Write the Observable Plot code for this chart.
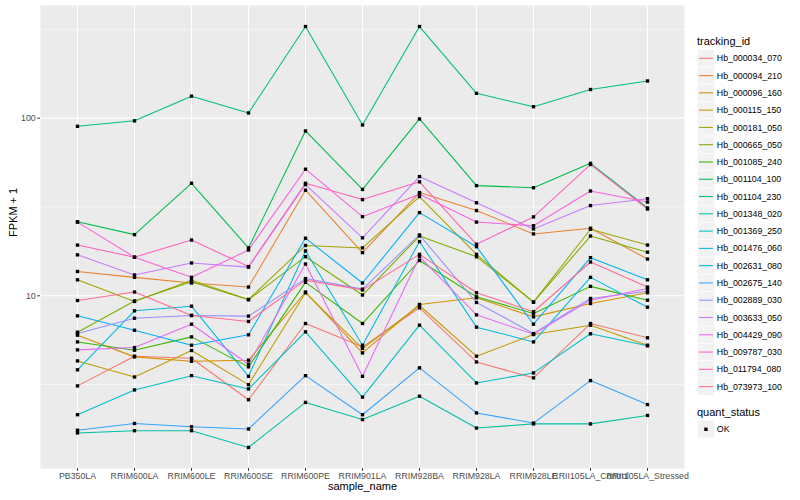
<!DOCTYPE html>
<html><head><meta charset="utf-8">
<script src="https://cdn.jsdelivr.net/npm/d3@7"></script>
<script src="https://cdn.jsdelivr.net/npm/@observablehq/plot@0.6"></script>
<style>
body{margin:0;background:#fff;font-family:"Liberation Sans",Arial,sans-serif;}
#wrap{display:flex;width:800px;height:500px;}
</style></head><body><div id="wrap"></div>
<script>
const samples = ["PB350LA","RRIM600LA","RRIM600LE","RRIM600SE","RRIM600PE","RRIM901LA","RRIM928BA","RRIM928LA","RRIM928LE","RRII105LA_Control","RRII105LA_Stressed"];
const ids = ["Hb_000034_070","Hb_000094_210","Hb_000096_160","Hb_000115_150","Hb_000181_050","Hb_000665_050","Hb_001085_240","Hb_001104_100","Hb_001104_230","Hb_001348_020","Hb_001369_250","Hb_001476_060","Hb_002631_080","Hb_002675_140","Hb_002889_030","Hb_003633_050","Hb_004429_090","Hb_009787_030","Hb_011794_080","Hb_073973_100"];
const colors = ["#F8766D","#EA8331","#D89000","#C09B00","#A3A500","#7CAE00","#39B600","#00BB4E","#00BF7D","#00C1A3","#00BFC4","#00BAE0","#00B0F6","#35A2FF","#9590FF","#C77CFF","#E76BF3","#FA62DB","#FF62BC","#FF6C91"];

const s000034_070 = [3.11, 4.57, 4.45, 2.60, 6.98, 5.16, 8.56, 4.24, 3.45, 6.98, 5.80];
const s000094_210 = [13.7, 12.7, 11.8, 11.2, 39.3, 17.5, 38.1, 30.2, 22.3, 24.0, 16.1];
const s000096_160 = [6.00, 4.53, 4.28, 4.34, 10.5, 4.77, 8.94, 9.74, 7.61, 9.05, 10.4];
const s000115_150 = [4.30, 3.49, 4.92, 3.16, 10.4, 5.05, 8.82, 4.57, 6.05, 6.83, 5.27];
const s000181_050 = [12.3, 9.29, 12.25, 9.54, 19.2, 18.6, 36.2, 17.1, 9.21, 23.7, 19.3];
const s000665_050 = [6.24, 9.35, 12.0, 9.50, 16.6, 10.1, 21.7, 16.6, 9.21, 21.7, 17.6];
const s001085_240 = [5.50, 4.94, 5.87, 3.98, 11.9, 6.98, 15.8, 9.87, 7.95, 11.3, 9.45];
const s001104_100 = [26.1, 22.1, 43.0, 18.6, 84.7, 39.7, 99.0, 41.7, 40.6, 55.7, 31.2];
const s001104_230 = [90.0, 96.6, 133, 107, 328, 91.6, 328, 138, 116, 145, 162];
const s001348_020 = [1.69, 1.74, 1.74, 1.40, 2.51, 2.01, 2.72, 1.80, 1.90, 1.90, 2.12];
const s001369_250 = [2.14, 2.95, 3.55, 2.99, 6.27, 2.69, 6.83, 3.23, 3.68, 6.11, 5.23];
const s001476_060 = [3.83, 8.23, 8.74, 3.52, 17.9, 5.27, 20.2, 6.66, 5.50, 12.7, 8.63];
const s002631_080 = [7.71, 6.40, 5.27, 6.03, 21.1, 11.8, 29.4, 18.9, 6.92, 16.4, 12.3];
const s002675_140 = [1.75, 1.91, 1.83, 1.78, 3.55, 2.14, 3.93, 2.19, 1.92, 3.33, 2.44];
const s002889_030 = [6.13, 7.48, 7.75, 7.68, 12.5, 10.9, 22.0, 9.17, 6.13, 9.66, 10.6];
const s003633_050 = [17.0, 13.1, 15.3, 14.5, 42.3, 21.2, 46.9, 33.4, 23.8, 32.2, 35.2];
const s004429_090 = [4.96, 5.11, 6.92, 4.12, 15.1, 3.52, 16.6, 7.81, 6.08, 9.45, 11.0];
const s009787_030 = [26.0, 16.5, 12.7, 18.1, 51.6, 27.9, 37.3, 26.0, 24.8, 38.9, 33.7];
const s011794_080 = [19.3, 16.5, 20.6, 14.6, 43.0, 34.8, 43.8, 19.5, 27.8, 54.8, 30.8];
const s073973_100 = [9.41, 10.5, 7.75, 7.17, 12.25, 10.8, 17.1, 10.4, 8.13, 15.5, 11.2];

const majorTicks = [10, 100];
const minorTicks = [Math.sqrt(10), Math.sqrt(10) * 10, Math.sqrt(10) * 100];

const series = [s000034_070,s000094_210,s000096_160,s000115_150,s000181_050,s000665_050,s001085_240,s001104_100,s001104_230,s001348_020,s001369_250,s001476_060,s002631_080,s002675_140,s002889_030,s003633_050,s004429_090,s009787_030,s011794_080,s073973_100];
const table = ids.flatMap((id, i) => series[i].map((v, j) => ({id, sample: samples[j], fpkm: v, status: "OK"})));

// ggplot-like 5% expansion in log space
const ext = d3.extent(table, d => Math.log10(d.fpkm));
const pad = (ext[1] - ext[0]) * 0.05;
const yDomain = [10 ** (ext[0] - pad), 10 ** (ext[1] + pad)];

const chart = Plot.plot({
  width: 690, height: 500,
  marginLeft: 40, marginRight: 6, marginTop: 5, marginBottom: 32,
  style: {fontFamily: "Liberation Sans, Arial, sans-serif", fontSize: "8.8px", background: "white", overflow: "visible"},
  x: {type: "point", domain: samples, padding: 0.6},
  y: {type: "log", domain: yDomain},
  color: {domain: ids, range: colors},
  marks: [
    Plot.frame({fill: "#EBEBEB"}),
    Plot.gridY(minorTicks, {stroke: "white", strokeOpacity: 1, strokeWidth: 0.55}),
    Plot.gridY(majorTicks, {stroke: "white", strokeOpacity: 1, strokeWidth: 1.1}),
    Plot.gridX(samples, {stroke: "white", strokeOpacity: 1, strokeWidth: 1.1}),
    Plot.line(table, {x: "sample", y: "fpkm", z: "id", stroke: "id", strokeWidth: 1.07}),
    Plot.dot(table, {x: "sample", y: "fpkm", symbol: "square", r: 1.9, fill: "black", stroke: null}),
    Plot.axisY(majorTicks, {tickSize: 2.75, tickPadding: 2, tickFormat: d => String(d), fontSize: 8.8, stroke: "#333333", fill: "#4D4D4D", label: null}),
    Plot.axisX(samples, {tickSize: 2.75, tickPadding: 1.2, fontSize: 8.8, stroke: "#333333", fill: "#4D4D4D", label: null}),
    Plot.text(["FPKM + 1"], {frameAnchor: "left", dx: -27, rotate: -90, fontSize: 11, fill: "black"}),
    Plot.text(["sample_name"], {frameAnchor: "bottom", dy: 21.5, fontSize: 11, fill: "black"})
  ]
});

const wrap = document.getElementById("wrap");
wrap.appendChild(chart);

// legend
const lg = d3.create("svg").attr("width", 110).attr("height", 500)
  .style("font-family", "Liberation Sans, Arial, sans-serif");
lg.append("text").attr("x", 7).attr("y", 44.5).attr("font-size", 11).attr("fill", "black").text("tracking_id");
const key = 17.28;
ids.forEach((id, i) => {
  const cy = 58.3 + i * key;
  lg.append("rect").attr("x", 7.3).attr("y", cy - key / 2).attr("width", key).attr("height", key)
    .attr("fill", "#F2F2F2").attr("stroke", "white").attr("stroke-width", 0.6);
  lg.append("line").attr("x1", 9).attr("x2", 7.3 + key - 1.7).attr("y1", cy).attr("y2", cy)
    .attr("stroke", colors[i]).attr("stroke-width", 1.07);
  lg.append("text").attr("x", 26.8).attr("y", cy + 3.1).attr("font-size", 8.8).attr("fill", "black").text(id);
});
lg.append("text").attr("x", 7).attr("y", 416.3).attr("font-size", 11).attr("fill", "black").text("quant_status");
{
  const cy = 429.3;
  lg.append("rect").attr("x", 7.3).attr("y", cy - key / 2).attr("width", key).attr("height", key)
    .attr("fill", "#F2F2F2").attr("stroke", "white").attr("stroke-width", 0.6);
  lg.append("rect").attr("x", 7.3 + key / 2 - 1.7).attr("y", cy - 1.7).attr("width", 3.4).attr("height", 3.4).attr("fill", "black");
  lg.append("text").attr("x", 26.8).attr("y", cy + 3.1).attr("font-size", 8.8).attr("fill", "black").text("OK");
}
wrap.appendChild(lg.node());
</script></body></html>
